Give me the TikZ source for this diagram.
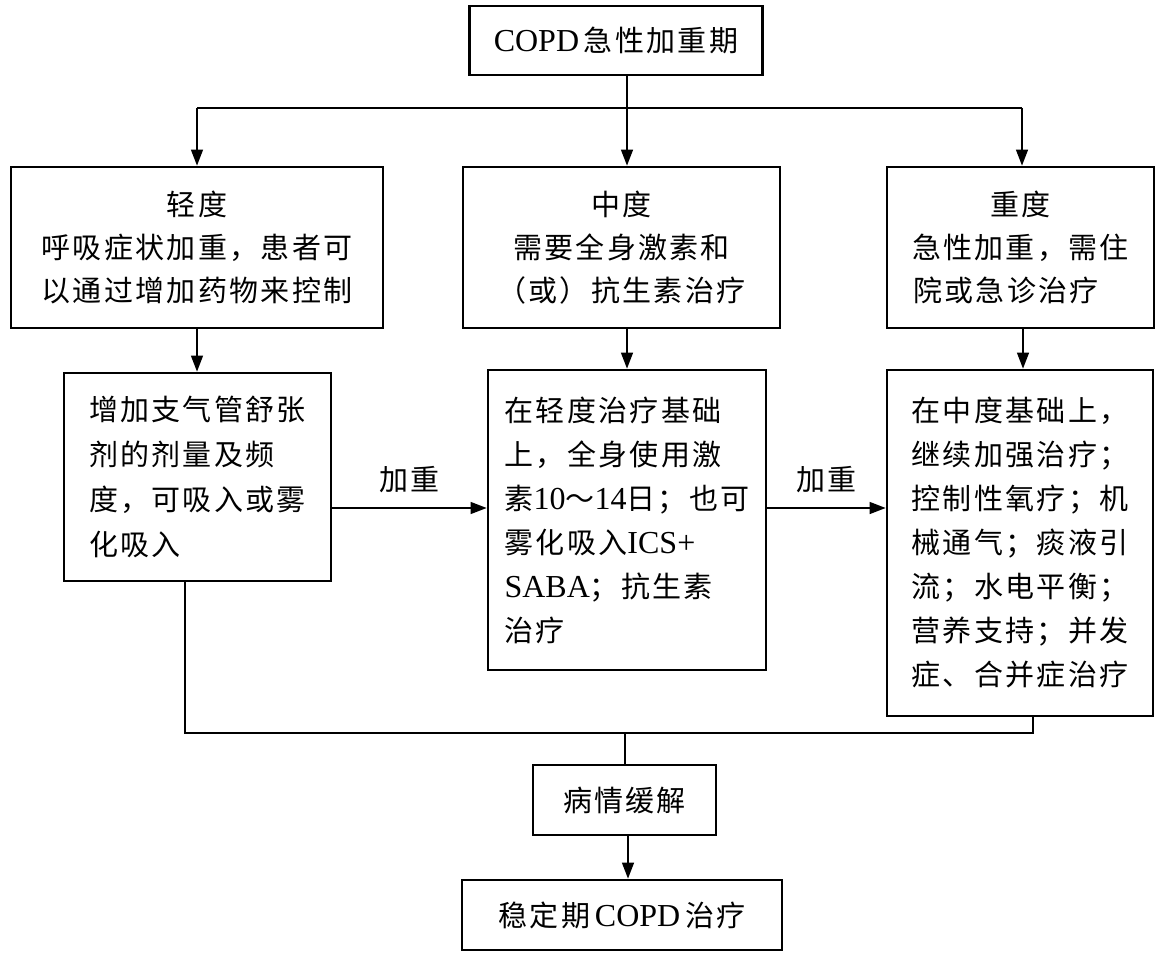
\documentclass[tikz,border=0pt]{standalone}
\usepackage{fontspec}
\setmainfont{Liberation Serif}
\newfontfamily\cjk[LetterSpace=8]{Noto Sans CJK SC}
\usetikzlibrary{arrows.meta}
\newcommand\lat[1]{{\rmfamily\fontsize{32}{44}\selectfont #1}}
\tikzset{
  box/.style={draw, line width=2.8pt, inner sep=0pt, align=center,
    font=\cjk\fontsize{29}{43}\selectfont},
  tbox/.style={box, align=left},
  conn/.style={line width=1.4pt},
  arr/.style={conn, -{Triangle[length=16pt,width=12pt]}},
  lab/.style={font=\cjk\fontsize{29}{43}\selectfont, inner sep=0pt}
}
\begin{document}
\begin{tikzpicture}[x=1pt,y=-1pt]
\useasboundingbox (0,0) rectangle (1165,957);
% boxes
\node[box, minimum width=293pt, minimum height=69pt] (top) at (616,40.5) {\lat{COPD}\,急性加重期};
\node[box, minimum width=372pt, minimum height=161pt] (mild) at (197,247.5)
  {轻度\\呼吸症状加重，患者可\\以通过增加药物来控制};
\node[box, minimum width=317pt, minimum height=161pt] (mod) at (621.5,247.5)
  {中度\\需要全身激素和\\（或）抗生素治疗};
\node[box, minimum width=267pt, minimum height=161pt] (sev) at (1020.5,247.5)
  {重度\\急性加重，需住\\院或急诊治疗\phantom{疗}};
\node[tbox, minimum width=267pt, minimum height=208pt,
  font=\cjk\fontsize{29}{45}\selectfont] (l2) at (197.5,477)
  {增加支气管舒张\\剂的剂量及频\\度，可吸入或雾\\化吸入};
\node[tbox, minimum width=278pt, minimum height=300pt,
  font=\cjk\fontsize{29}{44}\selectfont] (m2) at (627,520)
  {在轻度治疗基础\\上，全身使用激\\素\lat{10}～\lat{14}日；也可\\雾化吸入\lat{ICS+}\\\lat{SABA}；抗生素\\治疗};
\node[tbox, minimum width=266pt, minimum height=346pt,
  font=\cjk\fontsize{29}{44}\selectfont] (r2) at (1020,543)
  {在中度基础上，\\继续加强治疗；\\控制性氧疗；机\\械通气；痰液引\\流；水电平衡；\\营养支持；并发\\症、合并症治疗};
\node[box, minimum width=183pt, minimum height=70pt] (rel) at (624.5,800) {病情缓解};
\node[box, minimum width=320pt, minimum height=70pt] (stab) at (622,915) {稳定期\,\lat{COPD}\,治疗};
% junction coordinates
\coordinate (j1) at (627,108);
\coordinate (jl) at (197,108);
\coordinate (jr) at (1022,108);
\coordinate (ya) at (0,508);
\coordinate (jb1) at (185,733);
\coordinate (jb2) at (1033,733);
\coordinate (jb3) at (625,733);
% connectors
\draw[conn] (top.south -| j1) -- (j1);
\draw[conn] (jl) -- (jr);
\draw[arr] (jl) -- (jl |- mild.north);
\draw[arr] (j1) -- (j1 |- mod.north);
\draw[arr] (jr) -- (jr |- sev.north);
\draw[arr] (mild.south -| jl) -- (l2.north -| jl);
\draw[arr] (mod.south -| j1) -- (m2.north -| j1);
\draw[arr] (sev.south -| 1023,0) -- (r2.north -| 1023,0);
\draw[arr] (l2.east |- ya) -- node[lab, above=14pt] (lab1) {加重} (m2.west |- ya);
\draw[arr] (m2.east |- ya) -- node[lab, above=14pt] (lab2) {加重} (r2.west |- ya);
\draw[conn] (l2.south -| jb1) -- (jb1) -- (jb2) -- (r2.south -| jb2);
\draw[conn] (jb3) -- (rel.north -| jb3);
\draw[arr] (rel.south -| 628,0) -- (stab.north -| 628,0);
\end{tikzpicture}
\end{document}
